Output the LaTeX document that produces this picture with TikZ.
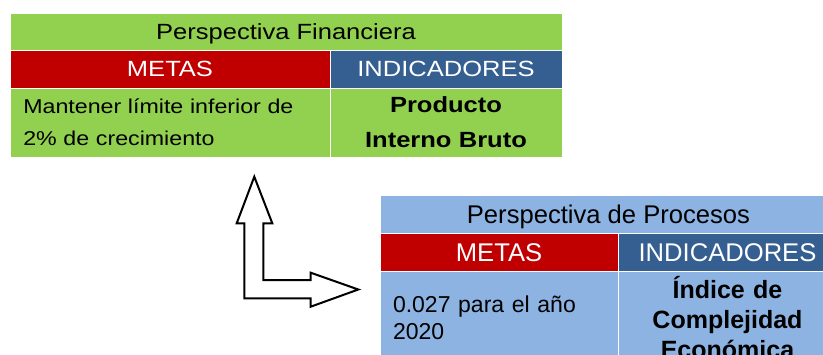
\documentclass[tikz,border=0pt]{standalone}
\usepackage{fontspec}
\setmainfont{Liberation Sans}
\newfontfamily\finfont{Liberation Sans}[FakeStretch=1.16]
\usetikzlibrary{positioning}
\definecolor{fingreen}{RGB}{146,208,80}
\definecolor{procblue}{RGB}{141,179,226}
\definecolor{metared}{RGB}{192,0,0}
\definecolor{indblue}{RGB}{54,95,145}

\begin{document}
\begin{tikzpicture}[x=1pt,y=-1pt,
  cell/.style={draw=white,line width=0.8pt,inner sep=0pt,outer sep=0pt,
               anchor=north west,align=center},
  finhd/.style={cell,font=\finfont\fontsize{22}{26}\selectfont,
                text height=15.7pt,text depth=0pt,minimum height=37pt},
  prochd/.style={cell,font=\fontsize{25.6}{30}\selectfont,
                 text height=18.3pt,text depth=0pt,minimum height=38pt},
  metacell/.style={fill=metared,text=white},
  indcell/.style={fill=indblue,text=white},
  finbody/.style={cell,fill=fingreen,minimum height=69pt},
  procbody/.style={cell,fill=procblue,minimum height=93pt},
  bentarrow/.style={draw=black,fill=white,line width=2pt,line join=miter}]
\useasboundingbox (0,0) rectangle (823,354);
\clip (0,0) rectangle (823,354);
%--- Perspectiva Financiera ---
\node[finhd,fill=fingreen,minimum width=552pt] (ftitle) at (10,13) {Perspectiva Financiera};
\node[finhd,metacell,minimum width=320pt,minimum height=38pt,
      below=0pt of ftitle.south west,anchor=north west] (fmeta) {METAS};
\node[finhd,indcell,minimum width=232pt,minimum height=38pt,
      right=0pt of fmeta.north east,anchor=north west] (find) {INDICADORES};
\node[finbody,minimum width=320pt,text width=293.4pt,inner xsep=13.3pt,align=left,
      font=\finfont\fontsize{20}{32.4}\selectfont,
      below=0pt of fmeta.south west,anchor=north west] (fgoal) {Mantener límite inferior de\\2\% de crecimiento};
\node[finbody,minimum width=232pt,text width=232pt,
      font=\finfont\bfseries\fontsize{22}{35}\selectfont,
      below=0pt of find.south west,anchor=north west] (fpib) {Producto\\Interno Bruto};
%--- Perspectiva de Procesos ---
\node[prochd,fill=procblue,minimum width=457pt] (ptitle) at (380,195) {Perspectiva de Procesos};
\node[prochd,metacell,minimum width=238pt,
      below=0pt of ptitle.south west,anchor=north west] (pmeta) {METAS};
\node[prochd,indcell,minimum width=219pt,
      right=0pt of pmeta.north east,anchor=north west] (pind) {INDICADORES};
\node[procbody,minimum width=238pt,text width=212pt,inner xsep=13pt,align=left,
      font=\fontsize{23}{26.7}\selectfont,
      below=0pt of pmeta.south west,anchor=north west] (pgoal) {0.027 para el año\\2020};
\node[procbody,minimum width=219pt,text width=219pt,
      font=\bfseries\fontsize{25}{30}\selectfont,
      below=0pt of pind.south west,anchor=north west] (pice) {Índice de\\Complejidad\\Económica};
%--- Flecha ---
\draw[bentarrow] (254.3,176.7) -- (272.3,223.3) -- (263.3,223.3) -- (263.3,280)
  -- (310.7,280) -- (310.7,272.7) -- (358.3,289.5) -- (310.7,306.7) -- (310.7,298.3)
  -- (244.3,298.3) -- (244.3,223.3) -- (236.7,223.3) -- cycle;
\end{tikzpicture}
\end{document}
